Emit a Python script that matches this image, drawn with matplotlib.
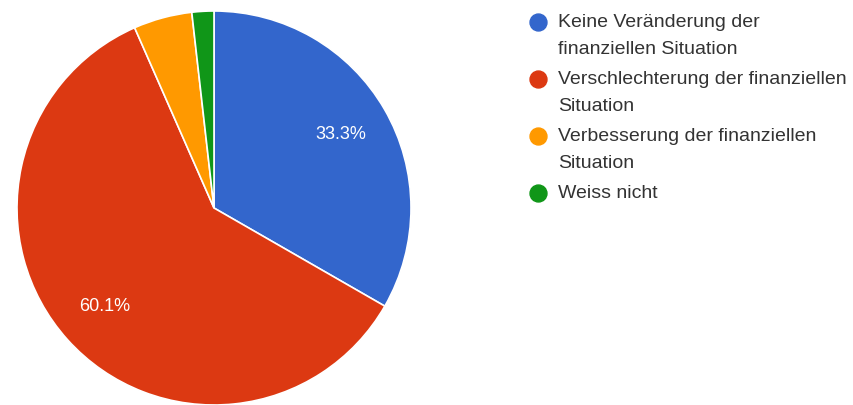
import matplotlib.pyplot as plt

labels = ['Keine Veränderung der\nfinanziellen Situation',
          'Verschlechterung der finanziellen\nSituation',
          'Verbesserung der finanziellen\nSituation',
          'Weiss nicht']
shares = [33.3, 60.1, 4.8, 1.8]
colors = ['#3366cc', '#dc3912', '#ff9900', '#109618']

plt.rcParams['font.family'] = ['Liberation Sans', 'DejaVu Sans']

W, H = 854, 405
fig = plt.figure(figsize=(W / 100, H / 100), dpi=100)

# pie area: centre (214, 208) px, radius 197 px
cx, cy, r = 214, 208, 197
ax = fig.add_axes([(cx - r) / W, (H - cy - r) / H, 2 * r / W, 2 * r / H])


def pct_label(p):
    return f'{p:.1f}%' if p > 10 else ''


wedges, _, autotexts = ax.pie(shares, colors=colors, startangle=90, counterclock=False,
                              autopct=pct_label, pctdistance=0.745, radius=1,
                              wedgeprops=dict(edgecolor='white', linewidth=1.2))
for t in autotexts:
    t.set_color('white')
    t.set_fontsize(13)
ax.set_xlim(-1, 1)
ax.set_ylim(-1, 1)
ax.set_aspect('equal')
ax.axis('off')

# legend drawn by hand
x_dot, x_txt = 538, 558
y = 22
line_h = 27
for lab, col in zip(labels, colors):
    fig.lines.append(plt.Line2D([x_dot / W], [1 - y / H], marker='o', markersize=12.2,
                                color=col, transform=fig.transFigure, figure=fig))
    fig.text(x_txt / W, 1 - (y - 8) / H, lab, ha='left', va='top', fontsize=14,
             color='#333333', linespacing=1.74, transform=fig.transFigure)
    nlines = lab.count('\n') + 1
    y += nlines * line_h + 3

fig.savefig('out.png', dpi=100)
